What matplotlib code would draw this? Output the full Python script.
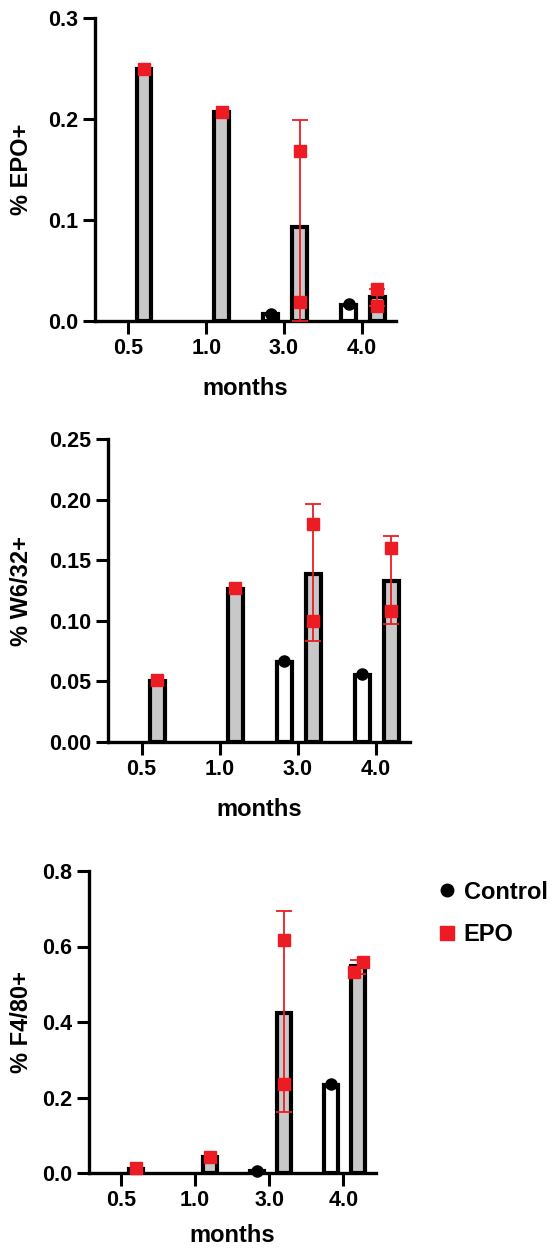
import numpy as np
import matplotlib
matplotlib.use("Agg")
import matplotlib.pyplot as plt
from matplotlib.lines import Line2D
from matplotlib.ticker import FormatStrFormatter

plt.rcParams["font.family"] = ["Liberation Sans", "DejaVu Sans"]
plt.rcParams["font.weight"] = "bold"

RED = "#ED1C24"
GREY = "#C8C8C8"

months = ["0.5", "1.0", "3.0", "4.0"]

# % EPO+
epo_ctrl = [np.nan, np.nan, 0.007, 0.016]
epo_ctrl_pts = [[], [], [0.007], [0.017]]
epo_epo = [0.250, 0.207, 0.093, 0.024]
epo_epo_pts = [[0.250], [0.207], [0.168, 0.019], [0.032, 0.015]]
epo_err_lo = [np.nan, np.nan, 0.0, 0.015]
epo_err_hi = [np.nan, np.nan, 0.199, 0.032]

# % W6/32+
w6_ctrl = [np.nan, np.nan, 0.066, 0.055]
w6_ctrl_pts = [[], [], [0.067], [0.056]]
w6_epo = [0.050, 0.126, 0.139, 0.133]
w6_epo_pts = [[0.051], [0.127], [0.180, 0.100], [0.160, 0.108]]
w6_err_lo = [np.nan, np.nan, 0.083, 0.097]
w6_err_hi = [np.nan, np.nan, 0.196, 0.170]

# % F4/80+
f4_ctrl = [np.nan, np.nan, 0.004, 0.233]
f4_ctrl_pts = [[], [], [0.005], [0.236]]
f4_epo = [0.010, 0.042, 0.424, 0.548]
f4_epo_pts = [[0.012], [0.043], [0.616, 0.237], [0.532, 0.559]]
f4_err_lo = [np.nan, np.nan, 0.162, 0.527]
f4_err_hi = [np.nan, np.nan, 0.693, 0.565]

W, H = 552, 1249
fig = plt.figure(figsize=(W / 100, H / 100), dpi=100)


def make_axes(left, top, right, bottom):
    # pixel box -> figure fraction
    return fig.add_axes([left / W, 1 - bottom / H, (right - left) / W, (bottom - top) / H])


def panel(ax, box, ylabel, ymax, ystep, fmt, ctrl, ctrl_pts, epo, epo_pts, lo, hi,
          jitter=None, xlab_gap=56):
    x = np.arange(len(months))
    c_off, e_off, bw = -0.17, 0.20, 0.19
    ax.bar(x + c_off, ctrl, bw, facecolor="white", edgecolor="black", linewidth=3.0, zorder=2)
    ax.bar(x + e_off, epo, bw, facecolor=GREY, edgecolor="black", linewidth=3.0, zorder=2)

    epo_arr = np.array(epo)
    lo, hi = np.array(lo), np.array(hi)
    ok = ~np.isnan(lo)
    ax.errorbar(x[ok] + e_off, epo_arr[ok], yerr=[epo_arr[ok] - lo[ok], hi[ok] - epo_arr[ok]],
                fmt="none", ecolor=RED, elinewidth=1.3, capsize=5.5, capthick=1.3, zorder=3, clip_on=False)

    for i in range(len(months)):
        for v in ctrl_pts[i]:
            ax.plot(x[i] + c_off, v, "o", color="black", ms=8, zorder=4, clip_on=False)
        for j, v in enumerate(epo_pts[i]):
            dx = jitter[i][j] if jitter else 0
            ax.plot(x[i] + e_off + dx, v, "s", color=RED, ms=9, zorder=5, clip_on=False)

    ax.set_xlim(-0.43, 3.44)
    ax.set_ylim(0, ymax)
    ax.set_yticks(np.arange(0, ymax + ystep / 2, ystep))
    ax.yaxis.set_major_formatter(FormatStrFormatter(fmt))
    ax.set_xticks(x)
    ax.set_xticklabels(months)
    for s in ["top", "right"]:
        ax.spines[s].set_visible(False)
    for s in ["left", "bottom"]:
        ax.spines[s].set_linewidth(2.4)
    ax.tick_params(length=9, width=2.2, labelsize=15.5, pad=3)
    for lab in ax.get_xticklabels() + ax.get_yticklabels():
        lab.set_fontweight("bold")

    left, top, right, bottom = box
    ax.set_ylabel(ylabel, fontsize=17, fontweight="bold")
    ax.yaxis.set_label_coords((33 - left) / (right - left), 0.5)
    ax.set_xlabel("months", fontsize=17, fontweight="bold")
    ax.xaxis.set_label_coords(0.5, -xlab_gap / (bottom - top))


boxes = [(95, 18, 396, 321), (108, 439, 410, 742), (89, 871, 376, 1173)]
axs = [make_axes(*b) for b in boxes]

panel(axs[0], boxes[0], "% EPO+", 0.3, 0.1, "%.1f",
      epo_ctrl, epo_ctrl_pts, epo_epo, epo_epo_pts, epo_err_lo, epo_err_hi)
panel(axs[1], boxes[1], "% W6/32+", 0.25, 0.05, "%.2f",
      w6_ctrl, w6_ctrl_pts, w6_epo, w6_epo_pts, w6_err_lo, w6_err_hi)
panel(axs[2], boxes[2], "% F4/80+", 0.8, 0.2, "%.1f",
      f4_ctrl, f4_ctrl_pts, f4_epo, f4_epo_pts, f4_err_lo, f4_err_hi,
      jitter=[[0], [0], [0, 0], [-0.06, 0.06]], xlab_gap=51)

handles = [
    Line2D([], [], ls="none", marker="o", color="black", ms=9),
    Line2D([], [], ls="none", marker="s", color=RED, ms=9.5),
]
fig.legend(handles, ["Control", "EPO"], loc="center left",
           bbox_to_anchor=(440 / W, 1 - 913.5 / H), frameon=False,
           prop={"size": 17, "weight": "bold"}, handlelength=0.6,
           handletextpad=0.4, labelspacing=0.83, borderpad=0, borderaxespad=0)

fig.savefig("out.png", dpi=100)
